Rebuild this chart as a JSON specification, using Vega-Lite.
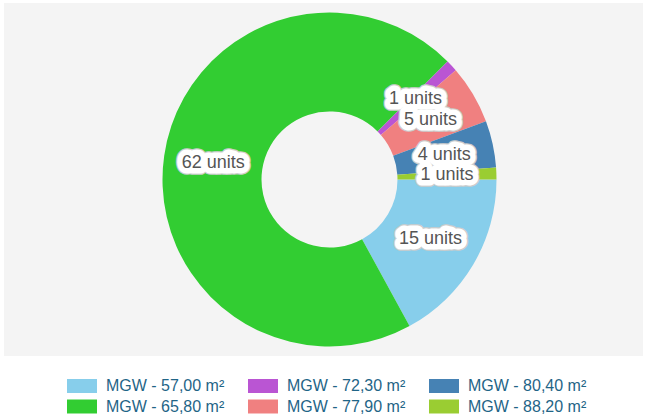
{
  "$schema": "https://vega.github.io/schema/vega-lite/v6.json",
  "width": 639,
  "height": 353,
  "padding": {"left": 4, "top": 3, "right": 0, "bottom": 0},
  "view": {"fill": "#f4f4f4", "stroke": null},
  "data": {"values": [
    {"category": "MGW - 57,00 m²", "units": 15, "label": "15 units"},
    {"category": "MGW - 65,80 m²", "units": 62, "label": "62 units"},
    {"category": "MGW - 72,30 m²", "units": 1, "label": "1 units"},
    {"category": "MGW - 77,90 m²", "units": 5, "label": "5 units"},
    {"category": "MGW - 80,40 m²", "units": 4, "label": "4 units"},
    {"category": "MGW - 88,20 m²", "units": 1, "label": "1 units"}
  ]},
  "encoding": {
    "theta": {"field": "units", "type": "quantitative", "stack": true, "scale": {"range": [1.5708, 7.854]}},
    "order": {"field": "category", "sort": "ascending"}
  },
  "layer": [
    {
      "mark": {"type": "arc", "innerRadius": 68, "outerRadius": 167, "xOffset": 6, "stroke": null},
      "encoding": {
        "color": {
          "field": "category", "type": "nominal",
          "scale": {
            "domain": ["MGW - 57,00 m²", "MGW - 72,30 m²", "MGW - 80,40 m²", "MGW - 65,80 m²", "MGW - 77,90 m²", "MGW - 88,20 m²"],
            "range": ["#87ceeb", "#ba55d3", "#4682b4", "#32cd32", "#f08080", "#9acd32"]
          },
          "legend": {
            "orient": "none", "legendX": 62, "legendY": 375, "direction": "horizontal", "columns": 3,
            "title": null, "symbolType": "M-1,-1H3.2857V1H-1Z", "symbolSize": 196, "symbolStrokeWidth": 0,
            "labelFont": "Liberation Sans", "labelFontSize": 16, "labelColor": "#1f6587", "labelOffset": 24,
            "columnPadding": 22, "rowPadding": 4.5, "labelLimit": 300
          }
        }
      }
    },
    {
      "mark": {"type": "text", "radius": 117.5, "xOffset": 6, "font": "Liberation Sans", "fontSize": 18, "fill": "#cccccc", "stroke": "#cccccc", "strokeWidth": 13.5, "strokeJoin": "round"},
      "encoding": {"text": {"field": "label"}}
    },
    {
      "mark": {"type": "text", "radius": 117.5, "xOffset": 6, "font": "Liberation Sans", "fontSize": 18, "fill": "#ffffff", "stroke": "#ffffff", "strokeWidth": 11, "strokeJoin": "round"},
      "encoding": {"text": {"field": "label"}}
    },
    {
      "mark": {"type": "text", "radius": 117.5, "xOffset": 6, "font": "Liberation Sans", "fontSize": 18, "fill": "#555555"},
      "encoding": {"text": {"field": "label"}}
    }
  ]
}
